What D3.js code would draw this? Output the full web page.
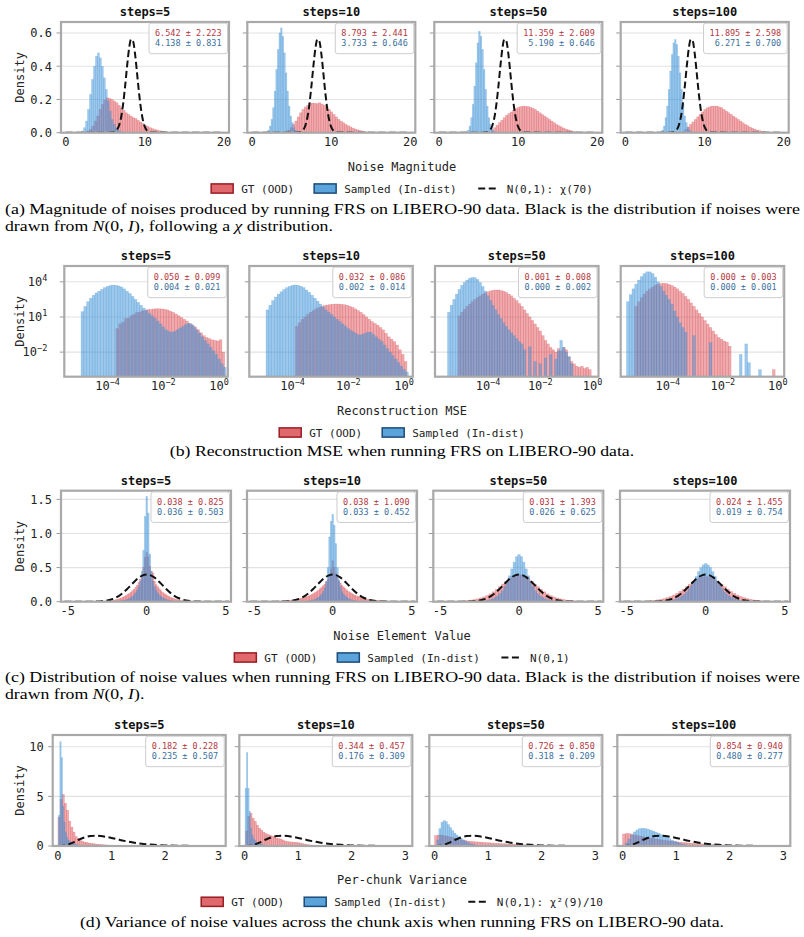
<!DOCTYPE html>
<html>
<head>
<meta charset="utf-8">
<script src="https://cdn.jsdelivr.net/npm/d3@7"></script>
<style>
  body { margin: 0; background: #fff; }
  svg text { font-family: "DejaVu Sans Mono", monospace; fill: #222; }
  svg text.cap { font-family: "Liberation Serif", "Times New Roman", serif; fill: #000; }
</style>
</head>
<body>
<svg id="fig" width="804" height="937"></svg>
<script>
var stepLabels = ["steps=5", "steps=10", "steps=50", "steps=100"];

// ---- (a) noise magnitude ----
var magStats = [["6.542 ± 2.223", "4.138 ± 0.831"], ["8.793 ± 2.441", "3.733 ± 0.646"],
                ["11.359 ± 2.609", "5.190 ± 0.646"], ["11.895 ± 2.598", "6.271 ± 0.700"]];
var magGT = [
  {start: 2.4, width: 0.3, dens: [0.005,0.01,0.02,0.04,0.07,0.10,0.14,0.17,0.195,0.21,0.205,0.20,0.19,0.18,0.165,0.15,0.135,0.12,0.11,0.10,0.09,0.085,0.075,0.065,0.055,0.045,0.038,0.03,0.024,0.02,0.016,0.012,0.009,0.006,0.004,0.002]},
  {start: 4.2, width: 0.3, dens: [0.005,0.015,0.03,0.05,0.07,0.095,0.12,0.14,0.155,0.165,0.175,0.178,0.177,0.175,0.18,0.172,0.165,0.155,0.14,0.125,0.11,0.095,0.08,0.07,0.06,0.05,0.042,0.035,0.028,0.022,0.017,0.013,0.009,0.006,0.004,0.002]},
  {start: 6.3, width: 0.3, dens: [0.005,0.015,0.03,0.045,0.06,0.075,0.09,0.105,0.115,0.125,0.135,0.145,0.152,0.157,0.16,0.158,0.157,0.152,0.148,0.14,0.13,0.12,0.11,0.1,0.09,0.08,0.07,0.06,0.05,0.042,0.035,0.028,0.022,0.017,0.012,0.008,0.005,0.003]},
  {start: 7.2, width: 0.3, dens: [0.008,0.02,0.035,0.05,0.065,0.08,0.095,0.11,0.125,0.14,0.15,0.155,0.16,0.158,0.16,0.155,0.15,0.14,0.13,0.12,0.11,0.1,0.09,0.08,0.07,0.06,0.05,0.042,0.034,0.027,0.021,0.016,0.012,0.009,0.006,0.004,0.003]}
];
var magSampled = [
  {start: 2.0, width: 0.25, dens: [0.01,0.03,0.07,0.14,0.23,0.32,0.40,0.46,0.48,0.45,0.40,0.33,0.26,0.19,0.13,0.08,0.05,0.03,0.015,0.008,0.004]},
  {start: 1.8, width: 0.2, dens: [0.005,0.015,0.04,0.08,0.15,0.25,0.38,0.50,0.60,0.63,0.58,0.48,0.36,0.25,0.16,0.10,0.06,0.03,0.015,0.007]},
  {start: 3.4, width: 0.2, dens: [0.005,0.015,0.04,0.09,0.17,0.28,0.42,0.54,0.61,0.58,0.50,0.38,0.26,0.16,0.09,0.05,0.025,0.01,0.004]},
  {start: 4.4, width: 0.2, dens: [0.005,0.015,0.04,0.09,0.16,0.26,0.37,0.47,0.54,0.56,0.53,0.46,0.36,0.26,0.17,0.1,0.06,0.03,0.015,0.006]}
];
var chiX = [0,5.5,6,6.25,6.5,6.75,7,7.25,7.5,7.75,8,8.25,8.5,8.75,9,9.25,9.5,9.75,10,10.25,10.5,11,20];
var chiY = [0,0.0002,0.0023,0.007,0.019,0.045,0.093,0.172,0.279,0.400,0.505,0.562,0.551,0.477,0.363,0.244,0.145,0.076,0.035,0.014,0.005,0.0006,0];

// ---- (b) reconstruction MSE, log10 bins and log10 density (null = empty bin) ----
var mseStats = [["0.050 ± 0.099", "0.004 ± 0.021"], ["0.032 ± 0.086", "0.002 ± 0.014"],
                ["0.001 ± 0.008", "0.000 ± 0.002"], ["0.000 ± 0.003", "0.000 ± 0.001"]];
var mseGT = [
  {start: -3.7, width: 0.1, dens: [0.0,0.4,0.55,0.85,0.9,1.1,1.2,1.38,1.42,1.52,1.56,1.63,1.64,1.68,1.7,1.7,1.68,1.65,1.6,1.5,1.4,1.25,1.1,0.95,0.8,0.65,0.45,0.3,0.1,-0.1,-0.35,-0.6,-0.75,-0.85,-0.95,-1.0,-1.05,-0.95,-2.0]},
  {start: -3.9, width: 0.1, dens: [0.2,0.5,0.8,1.0,1.2,1.4,1.55,1.7,1.8,1.9,1.97,2.02,2.06,2.09,2.1,2.1,2.08,2.05,2.0,1.92,1.82,1.7,1.55,1.4,1.2,1.0,0.8,0.6,0.45,0.3,0.1,-0.1,-0.4,-0.7,-0.9,-1.1,-1.4,-1.8,-2.2,-2.8]},
  {start: -5.15, width: 0.1, dens: [1.1,1.4,1.65,1.9,2.1,2.3,2.5,2.65,2.8,2.95,3.05,3.15,3.22,3.28,3.3,3.3,3.26,3.2,3.1,2.95,2.8,2.6,2.4,2.15,1.9,1.6,1.3,1.0,0.7,0.4,0.1,-0.2,-0.6,-1.0,-1.3,-1.6,-1.8,-2.0,-1.7,-1.9,-1.6,-1.8,-2.4,-2.8,-3.0,-3.2,-3.3,-3.2,-3.4,-3.3,-3.5]},
  {start: -5.2, width: 0.1, dens: [1.9,2.3,2.65,2.95,3.2,3.4,3.55,3.7,3.8,3.85,3.87,3.85,3.78,3.68,3.55,3.4,3.2,3.0,2.75,2.5,2.2,1.9,1.6,1.3,1.0,0.7,0.4,0.1,-0.2,-0.5,-0.75,-0.9,-1.05,-1.15,-1.5,null,null,null,null,null,null,null,null,null,null,null,null,null,null,null,-3.5]}
];
var mseSampled = [
  {start: -4.95, width: 0.1, dens: [1.45,1.9,2.3,2.6,2.85,3.05,3.2,3.35,3.5,3.6,3.68,3.72,3.7,3.65,3.55,3.4,3.2,3.0,2.75,2.5,2.25,2.0,1.75,1.55,1.3,1.1,0.9,0.65,0.4,0.15,-0.1,-0.25,-0.3,-0.25,-0.1,0.05,0.2,0.35,0.45,0.4,0.2,-0.1,-0.4,-0.7,-1.0,-1.3,-1.6,-1.9,-2.2,-2.6,-3.0,-3.3]},
  {start: -4.95, width: 0.1, dens: [1.6,2.0,2.4,2.7,2.95,3.15,3.35,3.5,3.62,3.7,3.73,3.7,3.62,3.5,3.3,3.1,2.85,2.6,2.35,2.1,1.85,1.6,1.4,1.2,1.0,0.8,0.6,0.4,0.2,0.0,-0.15,-0.3,-0.45,-0.55,-0.5,-0.4,-0.3,-0.3,-0.5,-0.7,-0.9,-1.1,-1.4,-1.7,-2.0,-2.3,-2.6,-2.9,-3.2,-3.5,-3.7]},
  {start: -5.55, width: 0.1, dens: [1.4,2.0,2.5,2.95,3.35,3.7,3.95,4.15,4.3,4.37,4.35,4.2,3.95,3.6,3.2,2.8,2.4,2.0,1.6,1.2,0.85,0.5,0.2,-0.1,-0.35,-0.6,-0.85,-1.1,-1.3,-1.8,null,-1.55,null,-2.8,null,-3.0,null,-2.5,null,-2.2,null,-2.6,-1.9,-1.0,-1.6,-2.0,-2.4,-3.0]},
  {start: -5.5, width: 0.1, dens: [2.3,2.9,3.4,3.8,4.15,4.45,4.7,4.85,4.85,4.7,4.4,4.0,3.6,3.2,2.85,2.5,2.1,1.5,1.0,0.5,0.1,-0.3,null,null,-0.6,null,null,null,null,null,-1.2,null,null,null,null,null,null,null,null,null,null,-2.2,null,-1.3,-2.9,null,null,null,-3.5]}
];

// ---- (c) noise element values ----
var elemStats = [["0.038 ± 0.825", "0.036 ± 0.503"], ["0.038 ± 1.090", "0.033 ± 0.452"],
                 ["0.031 ± 1.393", "0.026 ± 0.625"], ["0.024 ± 1.455", "0.019 ± 0.754"]];
var elemGT = [
  {start: -3.05, width: 0.1, dens: [0.002,0.003,0.004,0.005,0.006,0.008,0.010,0.013,0.016,0.020,0.025,0.030,0.037,0.045,0.055,0.065,0.077,0.090,0.105,0.120,0.140,0.160,0.180,0.210,0.240,0.280,0.330,0.400,0.500,0.650,0.720,0.660,0.520,0.440,0.420,0.300,0.250,0.220,0.190,0.165,0.140,0.120,0.105,0.090,0.078,0.066,0.056,0.046,0.038,0.031,0.025,0.020,0.016,0.013,0.010,0.008,0.006,0.005,0.004,0.003,0.002]},
  {start: -3.55, width: 0.1, dens: [0.008,0.009,0.010,0.012,0.013,0.015,0.017,0.019,0.021,0.024,0.027,0.030,0.034,0.038,0.043,0.048,0.054,0.060,0.068,0.076,0.085,0.095,0.107,0.120,0.135,0.150,0.170,0.190,0.210,0.235,0.260,0.290,0.330,0.380,0.480,0.600,0.500,0.420,0.360,0.300,0.270,0.240,0.215,0.190,0.170,0.150,0.135,0.120,0.107,0.095,0.085,0.076,0.068,0.060,0.054,0.048,0.043,0.038,0.034,0.030,0.027,0.024,0.021,0.019,0.017,0.015,0.013,0.012,0.010,0.009,0.008]},
  {start: -4.1, width: 0.2, dens: [0.005,0.007,0.010,0.013,0.018,0.024,0.032,0.042,0.055,0.070,0.090,0.115,0.145,0.180,0.220,0.260,0.300,0.340,0.370,0.390,0.400,0.390,0.370,0.340,0.300,0.260,0.220,0.180,0.145,0.115,0.090,0.070,0.055,0.042,0.032,0.024,0.018,0.013,0.010,0.007,0.005]},
  {start: -4.1, width: 0.2, dens: [0.006,0.008,0.011,0.015,0.020,0.027,0.035,0.046,0.060,0.077,0.098,0.123,0.152,0.185,0.220,0.255,0.290,0.320,0.350,0.365,0.370,0.365,0.350,0.320,0.290,0.255,0.220,0.185,0.152,0.123,0.098,0.077,0.060,0.046,0.035,0.027,0.020,0.015,0.011,0.008,0.006]}
];
var elemSampled = [
  {start: -2.05, width: 0.1, dens: [0.004,0.005,0.007,0.009,0.012,0.016,0.020,0.027,0.035,0.045,0.060,0.080,0.100,0.130,0.170,0.22,0.30,0.45,0.75,1.25,1.54,1.30,0.70,0.45,0.30,0.22,0.170,0.130,0.100,0.080,0.060,0.045,0.035,0.027,0.020,0.016,0.012,0.009,0.007,0.005,0.004]},
  {start: -2.05, width: 0.1, dens: [0.003,0.004,0.005,0.007,0.009,0.012,0.016,0.021,0.028,0.037,0.050,0.065,0.085,0.110,0.150,0.20,0.30,0.50,0.95,1.18,1.28,1.12,0.85,0.50,0.32,0.22,0.150,0.110,0.085,0.065,0.050,0.037,0.028,0.021,0.016,0.012,0.009,0.007,0.005,0.004,0.003]},
  {start: -2.475, width: 0.15, dens: [0.007,0.010,0.014,0.020,0.030,0.042,0.060,0.085,0.120,0.160,0.220,0.290,0.380,0.480,0.580,0.660,0.690,0.660,0.580,0.480,0.380,0.290,0.220,0.160,0.120,0.085,0.060,0.042,0.030,0.020,0.014,0.010,0.007]},
  {start: -2.775, width: 0.15, dens: [0.005,0.008,0.011,0.016,0.023,0.032,0.044,0.060,0.082,0.110,0.145,0.190,0.240,0.300,0.370,0.440,0.500,0.540,0.560,0.540,0.500,0.440,0.370,0.300,0.240,0.190,0.145,0.110,0.082,0.060,0.044,0.032,0.023,0.016,0.011,0.008,0.005]}
];
var normX = [-5.2,-4.5,-4,-3.5,-3,-2.75,-2.5,-2.25,-2,-1.75,-1.5,-1.25,-1,-0.75,-0.5,-0.25,0,0.25,0.5,0.75,1,1.25,1.5,1.75,2,2.25,2.5,2.75,3,3.5,4,4.5,5.2];
var normY = [0,0,0.0001,0.0009,0.0044,0.0091,0.0175,0.0317,0.054,0.0863,0.1295,0.1826,0.242,0.3011,0.3521,0.3867,0.3989,0.3867,0.3521,0.3011,0.242,0.1826,0.1295,0.0863,0.054,0.0317,0.0175,0.0091,0.0044,0.0009,0.0001,0,0];

// ---- (d) per-chunk variance ----
var varStats = [["0.182 ± 0.228", "0.235 ± 0.507"], ["0.344 ± 0.457", "0.176 ± 0.309"],
                ["0.726 ± 0.850", "0.318 ± 0.209"], ["0.854 ± 0.940", "0.480 ± 0.277"]];
var varGT = [
  {start: 0.0, width: 0.04, dens: [2.9,4.7,5.2,4.3,3.6,2.5,1.9,1.4,0.95,0.74,0.55,0.45,0.4,0.35,0.3,0.26,0.23,0.2,0.18,0.16,0.14,0.12,0.1,0.09,0.08,0.07,0.06,0.05,0.04,0.035,0.03,0.025,0.02,0.015,0.01]},
  {start: 0.02, width: 0.04, dens: [1.5,3.0,3.3,2.8,2.5,2.1,1.8,1.6,1.4,1.25,1.15,1.08,1.0,0.9,0.8,0.75,0.7,0.6,0.5,0.45,0.42,0.4,0.38,0.36,0.33,0.3,0.24,0.2,0.16,0.12,0.09,0.07,0.05,0.04,0.03,0.02,0.015]},
  {start: 0.0, width: 0.05, dens: [1.05,1.1,1.1,1.05,1.0,0.95,0.88,0.8,0.72,0.65,0.6,0.55,0.5,0.47,0.44,0.42,0.4,0.38,0.36,0.34,0.32,0.3,0.28,0.26,0.24,0.23,0.22,0.2,0.19,0.17,0.16,0.15,0.13,0.12,0.11,0.1,0.09,0.08,0.07,0.06,0.05,0.045,0.04,0.035,0.03,0.025,0.02,0.015,0.01,0.008]},
  {start: 0.0, width: 0.05, dens: [1.2,1.25,1.25,1.2,1.1,1.05,1.0,0.95,0.9,0.85,0.8,0.75,0.7,0.66,0.62,0.58,0.54,0.5,0.47,0.44,0.41,0.38,0.35,0.33,0.31,0.29,0.27,0.25,0.23,0.21,0.19,0.17,0.16,0.14,0.13,0.12,0.11,0.1,0.09,0.08,0.07,0.065,0.06,0.055,0.05,0.045,0.04,0.035,0.03,0.025,0.02]}
];
var varSampled = [
  {start: 0.01, width: 0.025, dens: [3.1,10.5,8.9,4.0,2.4,1.4,0.9,0.6,0.45,0.35,0.27,0.2,0.16,0.13,0.1,0.08,0.065,0.05,0.04,0.035,0.03,0.025,0.02,0.016,0.013,0.01,0.008,0.006,0.005]},
  {start: 0.01, width: 0.025, dens: [5.8,9.4,5.8,3.5,1.8,1.1,0.75,0.55,0.4,0.3,0.24,0.19,0.15,0.12,0.1,0.08,0.065,0.05,0.04,0.032,0.025,0.02,0.015,0.012,0.01,0.008,0.006]},
  {start: 0.04, width: 0.04, dens: [0.6,1.75,2.4,2.55,2.45,2.15,1.85,1.55,1.3,1.1,0.92,0.78,0.62,0.5,0.38,0.28,0.2,0.14,0.1,0.07,0.05,0.035,0.025,0.015,0.01]},
  {start: 0.05, width: 0.05, dens: [0.3,0.7,1.1,1.42,1.62,1.75,1.78,1.76,1.7,1.6,1.5,1.4,1.28,1.15,1.02,0.88,0.74,0.6,0.48,0.37,0.28,0.2,0.14,0.1,0.07,0.05,0.03,0.02]}
];
var chi2X = [0,0.1,0.2,0.3,0.4,0.5,0.6,0.7,0.8,0.9,1.0,1.1,1.2,1.3,1.4,1.6,1.8,2.0,2.2,2.4,2.6,2.8,3.0];
var chi2Y = [0,0.023,0.158,0.396,0.658,0.872,1.0,1.04,1.007,0.922,0.81,0.69,0.564,0.45,0.356,0.209,0.116,0.062,0.032,0.016,0.008,0.004,0.002];

var RED = "#d9434a", BLUE = "#3b92d8";
var RED_TXT = "#b5383e", BLUE_TXT = "#3b6f9e";

var svg = d3.select("#fig");

var rows = [
  { top: 22, height: 110.7, lefts: [61, 247.3, 434.3, 620.7], width: 168,
    xDom: [[-0.6, 20.63]], xTicks: [0, 10, 20], yDom: [0, 0.666], yTicks: [0, 0.2, 0.4, 0.6], yFmt: d3.format(".1f"),
    gt: magGT, sm: magSampled, stats: magStats, refX: chiX, refY: chiY,
    xlabel: "Noise Magnitude", refLabel: "N(0,1): χ(70)" },
  { top: 266, height: 110.7, lefts: [64.3, 249.3, 435, 620.7], width: 163.5, log: true,
    xDom: [[-5.55, 0.31], [-5.55, 0.31], [-6.03, 0.23], [-5.71, 0.23]], xTicks: [-4, -2, 0], yDom: [-4.1, 5.35], yTicks: [-2, 1, 4],
    gt: mseGT, sm: mseSampled, stats: mseStats,
    xlabel: "Reconstruction MSE", refLabel: null },
  { top: 490.7, height: 111, lefts: [61, 247, 433.3, 620], width: 170,
    xDom: [[-5.42, 5.33]], xTicks: [-5, 0, 5], yDom: [0, 1.627], yTicks: [0, 0.5, 1, 1.5], yFmt: d3.format(".1f"),
    gt: elemGT, sm: elemSampled, stats: elemStats, refX: normX, refY: normY,
    xlabel: "Noise Element Value", refLabel: "N(0,1)" },
  { top: 735, height: 111, lefts: [52.7, 239.3, 429.3, 617.3], width: 173,
    xDom: [[-0.098, 3.13]], xTicks: [0, 1, 2, 3], yDom: [0, 11.18], yTicks: [0, 5, 10], yFmt: d3.format("d"),
    gt: varGT, sm: varSampled, stats: varStats, refX: chi2X, refY: chi2Y,
    xlabel: "Per-chunk Variance", refLabel: "N(0,1): χ²(9)/10" }
];

function powLabel(sel, e) {
  sel.text("10");
  sel.append("tspan").attr("dy", -5).attr("font-size", "8.5px").text(e < 0 ? "−" + (-e) : e);
}

function drawHist(g, x, y, h, color, opacity, log, y0) {
  var bars = [];
  h.dens.forEach(function(d, i) {
    if (d === null) return;
    var a = h.start + i * h.width, b = a + h.width;
    bars.push(log ? {x0: Math.pow(10, a), x1: Math.pow(10, b), v: Math.pow(10, d)} : {x0: a, x1: b, v: d});
  });
  g.append("g").selectAll("rect").data(bars).enter().append("rect")
    .attr("x", function(d) { return x(d.x0); })
    .attr("width", function(d) { return Math.max(0.3, x(d.x1) - x(d.x0)); })
    .attr("y", function(d) { return Math.min(y(d.v), y0); })
    .attr("height", function(d) { return Math.max(0, y0 - y(d.v)); })
    .attr("fill", color).attr("fill-opacity", opacity)
    .attr("stroke", color).attr("stroke-opacity", 0.35).attr("stroke-width", 0.5);
}

rows.forEach(function(row, r) {
  var y = row.log
    ? d3.scaleLog().domain([Math.pow(10, row.yDom[0]), Math.pow(10, row.yDom[1])]).range([row.top + row.height, row.top])
    : d3.scaleLinear().domain(row.yDom).range([row.top + row.height, row.top]);
  var y0 = row.top + row.height;

  stepLabels.forEach(function(lab, p) {
    var left = row.lefts[p], right = left + row.width;
    var dom = row.xDom[Math.min(p, row.xDom.length - 1)];
    var x = row.log
      ? d3.scaleLog().domain([Math.pow(10, dom[0]), Math.pow(10, dom[1])]).range([left, right])
      : d3.scaleLinear().domain(dom).range([left, right]);
    var g = svg.append("g");
    var clipId = "clip" + r + "_" + p;
    svg.append("clipPath").attr("id", clipId).append("rect")
      .attr("x", left).attr("y", row.top).attr("width", row.width).attr("height", row.height);

    // grid + y ticks
    row.yTicks.forEach(function(t) {
      var yy = y(row.log ? Math.pow(10, t) : t);
      g.append("line").attr("x1", left).attr("x2", right).attr("y1", yy).attr("y2", yy)
        .attr("stroke", "#e2e2e2").attr("stroke-width", 1.1);
      g.append("line").attr("x1", left - 4.5).attr("x2", left).attr("y1", yy).attr("y2", yy)
        .attr("stroke", "#9a9a9a").attr("stroke-width", 1);
      if (p === 0) {
        var tx = g.append("text").attr("x", left - (row.log ? 17 : 9)).attr("y", yy + 4.3)
          .attr("text-anchor", "end").attr("font-size", "12px");
        if (row.log) powLabel(tx, t); else tx.text(row.yFmt(t));
      }
    });

    var plot = g.append("g").attr("clip-path", "url(#" + clipId + ")");
    drawHist(plot, x, y, row.gt[p], RED, 0.45, row.log, y0);
    drawHist(plot, x, y, row.sm[p], BLUE, 0.5, row.log, y0);

    if (row.refX) {
      var pts = row.refX.map(function(v, i) { return [v, row.refY[i]]; });
      plot.append("path").datum(pts)
        .attr("d", d3.line().curve(d3.curveMonotoneX)
          .x(function(d) { return x(d[0]); }).y(function(d) { return y(d[1]); }))
        .attr("fill", "none").attr("stroke", "#111").attr("stroke-width", 2)
        .attr("stroke-dasharray", "7,3.5");
    }

    // frame
    g.append("rect").attr("x", left).attr("y", row.top).attr("width", row.width).attr("height", row.height)
      .attr("fill", "none").attr("stroke", "#a9a9a9").attr("stroke-width", 2.2);

    // x tick labels
    row.xTicks.forEach(function(t) {
      var xx = x(row.log ? Math.pow(10, t) : t);
      var tx = g.append("text").attr("x", xx).attr("y", y0 + 13.5)
        .attr("text-anchor", "middle").attr("font-size", "12px");
      if (row.log) powLabel(tx, t); else tx.text(t);
    });

    // title
    g.append("text").attr("x", (left + right) / 2).attr("y", row.top - 6.2)
      .attr("text-anchor", "middle").attr("font-size", "12px").attr("font-weight", "bold")
      .style("fill", "#111").text(lab);

    // stats box
    var box = g.append("g");
    var t1 = box.append("text").attr("text-anchor", "end").attr("font-size", "8.5px")
      .style("fill", RED_TXT).text(row.stats[p][0]);
    var t2 = box.append("text").attr("text-anchor", "end").attr("font-size", "8.5px")
      .style("fill", BLUE_TXT).text(row.stats[p][1]);
    var tw = Math.max(t1.node().getComputedTextLength(), t2.node().getComputedTextLength());
    var bw = tw + 12, bh = 30.5, bx = right - 1.5 - bw, by = row.top + 1.2;
    box.insert("rect", "text").attr("x", bx).attr("y", by).attr("width", bw).attr("height", bh)
      .attr("rx", 2.5).attr("fill", "#fff").attr("fill-opacity", 0.92)
      .attr("stroke", "#cccccc").attr("stroke-width", 1);
    t1.attr("x", bx + bw - 6).attr("y", by + 12.7);
    t2.attr("x", bx + bw - 6).attr("y", by + 23.2);
  });

  // y label
  var ly = row.top + row.height / 2;
  svg.append("text").attr("transform", "translate(24," + ly + ") rotate(-90)")
    .attr("text-anchor", "middle").attr("font-size", "12px").text("Density");

  // x label
  svg.append("text").attr("x", 402).attr("y", y0 + 38.3)
    .attr("text-anchor", "middle").attr("font-size", "12px").text(row.xlabel);

  // legend
  var leg = svg.append("g");
  var ly2 = y0 + 55.8;
  var items = [
    {kind: "patch", fill: "#e0696e", stroke: "#9b1c22", label: "GT (OOD)"},
    {kind: "patch", fill: "#5aa3db", stroke: "#1c4c78", label: "Sampled (In-dist)"}
  ];
  if (row.refLabel) items.push({kind: "line", label: row.refLabel});
  var cx = 0;
  items.forEach(function(it) {
    if (it.kind === "patch") {
      leg.append("rect").attr("x", cx).attr("y", ly2 - 4.6).attr("width", 22).attr("height", 9.2)
        .attr("fill", it.fill).attr("stroke", it.stroke).attr("stroke-width", 1.5);
    } else {
      leg.append("line").attr("x1", cx).attr("x2", cx + 22).attr("y1", ly2).attr("y2", ly2)
        .attr("stroke", "#111").attr("stroke-width", 2).attr("stroke-dasharray", "7,3.5")
        .attr("stroke-dashoffset", -1.5);
    }
    var tx = leg.append("text").attr("x", cx + 30).attr("y", ly2 + 4).attr("font-size", "11px").text(it.label);
    cx += 30 + tx.node().getComputedTextLength() + 20;
  });
  cx -= 20;
  leg.attr("transform", "translate(" + (402 - cx / 2) + ",0)");
});

// captions: Times-like text, slightly wide as in the source page
function caption(xPos, yPos, parts, anchor, fit) {
  var t = svg.append("text").attr("class", "cap").attr("x", xPos).attr("y", yPos)
    .attr("font-size", "14.3px").attr("text-anchor", anchor || "start");
  parts.forEach(function(p) {
    var s = t.append("tspan").text(p[0]);
    if (p[1]) s.attr("font-style", "italic");
  });
  var len = fit || t.node().getComputedTextLength() * 1.24;
  t.attr("textLength", len).attr("lengthAdjust", "spacingAndGlyphs");
}
caption(5, 214, [["(a) Magnitude of noises produced by running FRS on LIBERO-90 data. Black is the distribution if noises were"]], "start", 795);
caption(5, 231, [["drawn from "], ["N", true], ["(0, "], ["I", true], ["), following a "], ["χ", true], [" distribution."]]);
caption(402, 456, [["(b) Reconstruction MSE when running FRS on LIBERO-90 data."]], "middle");
caption(5, 682, [["(c) Distribution of noise values when running FRS on LIBERO-90 data. Black is the distribution if noises were"]], "start", 795);
caption(5, 699, [["drawn from "], ["N", true], ["(0, "], ["I", true], [")."]]);
caption(402, 927, [["(d) Variance of noise values across the chunk axis when running FRS on LIBERO-90 data."]], "middle");
</script>
</body>
</html>
